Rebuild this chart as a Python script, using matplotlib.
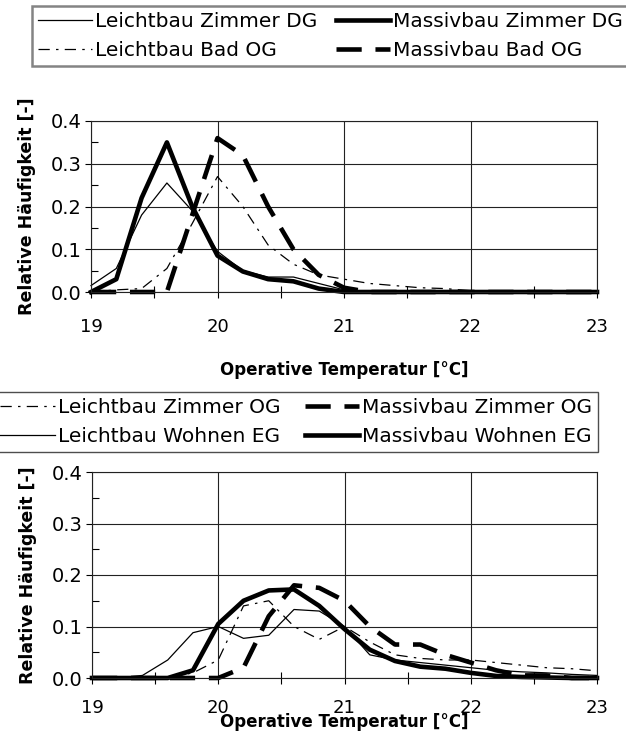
import matplotlib
matplotlib.use("Agg")
import matplotlib.pyplot as plt
from matplotlib.ticker import MultipleLocator, FormatStrFormatter

plt.rcParams['font.family'] = ['DejaVu Sans']

temps = [19.0, 19.2, 19.4, 19.6, 19.8, 20.0, 20.2, 20.4, 20.6, 20.8, 21.0,
         21.2, 21.4, 21.6, 21.8, 22.0, 22.2, 22.4, 22.6, 22.8, 23.0]

# top chart
leicht_zimmer_dg = [0.015, 0.055, 0.18, 0.255, 0.19, 0.095, 0.05, 0.035, 0.035, 0.02, 0.005,
                    0.002, 0.001, 0.0, 0.0, 0.0, 0.0, 0.0, 0.0, 0.0, 0.0]
massiv_zimmer_dg = [0.0, 0.03, 0.22, 0.35, 0.2, 0.085, 0.048, 0.03, 0.025, 0.008, 0.0,
                    0.0, 0.0, 0.0, 0.0, 0.0, 0.0, 0.0, 0.0, 0.0, 0.0]
leicht_bad_og = [0.0, 0.005, 0.008, 0.055, 0.16, 0.27, 0.2, 0.11, 0.065, 0.04, 0.03,
                 0.02, 0.015, 0.01, 0.008, 0.003, 0.0, 0.0, 0.0, 0.0, 0.0]
massiv_bad_og = [0.0, 0.0, 0.0, 0.0, 0.18, 0.36, 0.32, 0.2, 0.1, 0.04, 0.01,
                 0.0, 0.0, 0.0, 0.0, 0.0, 0.0, 0.0, 0.0, 0.0, 0.0]

# bottom chart
leicht_zimmer_og = [0.0, 0.0, 0.0, 0.0, 0.01, 0.035, 0.14, 0.15, 0.1, 0.075, 0.1,
                    0.07, 0.045, 0.038, 0.035, 0.035, 0.03, 0.025, 0.02, 0.018, 0.014]
massiv_zimmer_og = [0.0, 0.0, 0.0, 0.0, 0.0, 0.0, 0.02, 0.12, 0.18, 0.175, 0.15,
                    0.1, 0.065, 0.065, 0.045, 0.03, 0.015, 0.005, 0.005, 0.0, 0.0]
leicht_wohnen_eg = [0.0, 0.0, 0.005, 0.035, 0.088, 0.1, 0.077, 0.083, 0.133, 0.13, 0.1,
                    0.045, 0.035, 0.03, 0.025, 0.02, 0.015, 0.012, 0.01, 0.007, 0.005]
massiv_wohnen_eg = [0.0, 0.0, 0.0, 0.0, 0.015, 0.105, 0.15, 0.17, 0.172, 0.14, 0.095,
                    0.055, 0.033, 0.022, 0.018, 0.01, 0.004, 0.002, 0.001, 0.0, 0.0]

xlabel = "Operative Temperatur [°C]"
ylabel = "Relative Häufigkeit [-]"

thin = dict(color='black', lw=0.9)
thick = dict(color='black', lw=3.3)
dashdot = (0, (9, 5, 2, 5))
longdash = (0, (5.5, 3))

fig = plt.figure(figsize=(6.26, 7.40), dpi=100)
W, H = 626, 740

def make_ax(l, t, r, b):
    return fig.add_axes([l / W, 1 - b / H, (r - l) / W, (b - t) / H])

def style(ax, xpad):
    ax.set_xlim(19, 23)
    ax.set_ylim(0, 0.4)
    ax.xaxis.set_major_locator(MultipleLocator(1))
    ax.xaxis.set_minor_locator(MultipleLocator(0.5))
    ax.yaxis.set_major_locator(MultipleLocator(0.1))
    ax.yaxis.set_minor_locator(MultipleLocator(0.05))
    ax.yaxis.set_major_formatter(FormatStrFormatter('%.1f'))
    ax.grid(True, which='major', color='#222222', lw=0.8)
    ax.set_axisbelow(True)
    for s in ax.spines.values():
        s.set_color('#222222')
        s.set_linewidth(0.8)
    ax.tick_params(which='major', direction='out', length=4, width=0.8, colors='black')
    ax.tick_params(axis='x', which='major', labelsize=13, pad=xpad)
    ax.tick_params(axis='y', which='major', labelsize=14, pad=2.5)
    ax.tick_params(axis='x', which='minor', direction='inout', length=8, width=0.8)
    ax.tick_params(axis='y', which='minor', direction='in', length=5, width=0.8)
    ax.set_ylabel(ylabel, fontsize=12.5, fontweight='bold', labelpad=11)

leg_kw = dict(ncol=2, fontsize=14.5, frameon=True, fancybox=False,
              handlelength=2.7, handletextpad=0.15,
              borderpad=0.3, labelspacing=0.5, borderaxespad=0)

# ---- top chart
ax1 = make_ax(91, 121, 597, 292)
style(ax1, 15)
l1, = ax1.plot(temps, leicht_zimmer_dg, ls='-', **thin, label='Leichtbau Zimmer DG')
l2, = ax1.plot(temps, massiv_zimmer_dg, ls='-', **thick, label='Massivbau Zimmer DG')
l3, = ax1.plot(temps, leicht_bad_og, ls=dashdot, **thin, label='Leichtbau Bad OG')
l4, = ax1.plot(temps, massiv_bad_og, ls=longdash, **thick, label='Massivbau Bad OG')
for l in (l1, l2, l3, l4):
    l.set_clip_on(False)
ax1.set_xlabel(xlabel, fontsize=12, fontweight='bold', labelpad=18)

leg1 = fig.legend(handles=[l1, l3, l2, l4], loc='upper left', columnspacing=0.9,
                  bbox_to_anchor=(32 / W, 1 - 6 / H), edgecolor='#666666', **leg_kw)
leg1.get_frame().set_linewidth(1.8)

# ---- bottom chart
ax2 = make_ax(92, 472, 597, 678)
style(ax2, 11)
m1, = ax2.plot(temps, leicht_zimmer_og, ls=dashdot, **thin, label='Leichtbau Zimmer OG')
m2, = ax2.plot(temps, massiv_zimmer_og, ls=longdash, **thick, label='Massivbau Zimmer OG')
m3, = ax2.plot(temps, leicht_wohnen_eg, ls='-', **thin, label='Leichtbau Wohnen EG')
m4, = ax2.plot(temps, massiv_wohnen_eg, ls='-', **thick, label='Massivbau Wohnen EG')
for l in (m1, m2, m3, m4):
    l.set_clip_on(False)
ax2.set_xlabel(xlabel, fontsize=12, fontweight='bold', labelpad=-3)

leg2 = fig.legend(handles=[m1, m3, m2, m4], loc='upper right', columnspacing=1.2,
                  bbox_to_anchor=(598 / W, 1 - 392 / H), edgecolor='#222222', **leg_kw)
leg2.get_frame().set_linewidth(1.0)

fig.savefig('out.png', dpi=100)
